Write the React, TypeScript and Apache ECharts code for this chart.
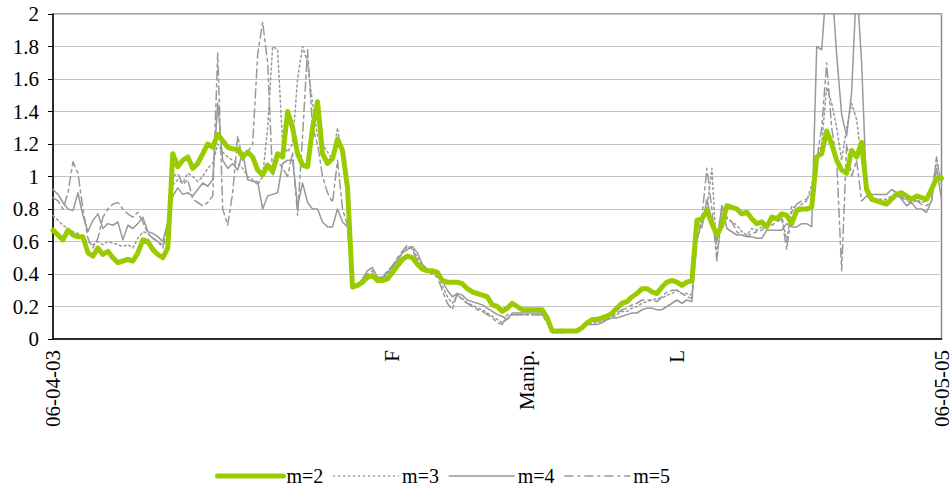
import React, { useEffect, useRef } from "react";
import * as echarts from "echarts";

// 179 samples from 06-04-03 to 06-05-05
const m2: number[] = [
  0.67,0.64,0.61,0.67,0.64,0.63,0.63,0.53,0.51,0.56,
  0.52,0.54,0.50,0.47,0.48,0.49,0.48,0.53,0.61,0.60,
  0.55,0.52,0.50,0.56,1.14,1.06,1.10,1.12,1.05,1.08,
  1.14,1.20,1.18,1.26,1.22,1.18,1.17,1.17,1.12,1.15,
  1.12,1.04,1.01,1.07,1.03,1.14,1.12,1.40,1.30,1.14,
  1.07,1.06,1.30,1.46,1.14,1.08,1.11,1.23,1.16,0.93,
  0.32,0.33,0.35,0.38,0.39,0.36,0.36,0.37,0.41,0.45,
  0.49,0.51,0.50,0.46,0.43,0.42,0.42,0.41,0.36,0.35,
  0.35,0.35,0.34,0.31,0.29,0.28,0.27,0.26,0.21,0.20,
  0.17,0.19,0.22,0.20,0.18,0.18,0.18,0.18,0.18,0.13,
  0.05,0.05,0.05,0.05,0.05,0.05,0.07,0.10,0.12,0.12,
  0.13,0.14,0.16,0.19,0.22,0.23,0.26,0.28,0.31,0.31,
  0.29,0.28,0.32,0.35,0.36,0.35,0.33,0.35,0.36,0.73,
  0.74,0.79,0.71,0.64,0.70,0.82,0.81,0.80,0.77,0.78,
  0.74,0.71,0.72,0.69,0.75,0.74,0.77,0.76,0.71,0.79,
  0.80,0.80,0.81,1.12,1.14,1.28,1.20,1.10,1.04,1.02,
  1.16,1.12,1.21,0.92,0.86,0.85,0.84,0.83,0.86,0.89,
  0.90,0.88,0.86,0.88,0.87,0.86,0.92,0.99,0.99,
];

const m3: number[] = [
  0.76,0.73,0.70,0.68,0.66,0.65,0.62,0.60,0.58,0.60,
  0.58,0.60,0.59,0.58,0.57,0.58,0.56,0.62,0.66,0.65,
  0.62,0.60,0.58,0.62,0.95,0.98,0.96,1.02,1.00,0.97,
  1.00,1.05,1.08,1.20,1.15,1.12,1.10,1.08,1.05,1.00,
  0.98,0.95,1.00,1.30,1.80,1.78,1.20,1.15,1.20,1.60,
  1.80,1.70,1.45,1.25,1.20,1.15,1.10,1.30,1.10,0.90,
  0.33,0.34,0.36,0.39,0.40,0.37,0.37,0.40,0.45,0.49,
  0.53,0.57,0.56,0.50,0.45,0.42,0.40,0.40,0.33,0.26,
  0.22,0.27,0.25,0.22,0.21,0.19,0.18,0.16,0.14,0.12,
  0.10,0.12,0.15,0.15,0.15,0.15,0.15,0.15,0.15,0.10,
  0.04,0.04,0.04,0.05,0.05,0.06,0.07,0.09,0.10,0.10,
  0.11,0.12,0.13,0.15,0.17,0.17,0.19,0.20,0.22,0.23,
  0.24,0.25,0.25,0.27,0.28,0.30,0.28,0.28,0.27,0.62,
  0.70,0.80,1.05,0.50,0.75,0.74,0.72,0.70,0.66,0.64,
  0.68,0.67,0.69,0.72,0.73,0.74,0.76,0.60,0.82,0.80,
  0.83,0.85,0.95,1.10,1.20,1.55,1.45,1.30,1.10,1.30,
  1.45,1.35,1.10,0.92,0.88,0.86,0.86,0.86,0.88,0.90,
  0.88,0.86,0.84,0.86,0.84,0.85,0.90,1.10,0.95,
];

const m4: number[] = [
  0.92,0.89,0.84,0.80,0.79,0.90,0.76,0.66,0.73,0.77,
  0.68,0.71,0.70,0.72,0.61,0.70,0.68,0.71,0.75,0.66,
  0.65,0.63,0.60,0.72,0.88,0.93,0.89,0.90,0.88,0.92,
  0.96,0.94,0.98,1.45,1.10,1.05,1.08,1.04,1.15,0.98,
  0.97,0.97,0.80,0.88,0.89,0.90,1.08,1.10,1.10,0.82,
  0.96,0.84,0.80,0.80,0.72,0.69,0.69,0.80,0.72,0.69,
  0.31,0.33,0.37,0.42,0.44,0.38,0.38,0.41,0.44,0.48,
  0.53,0.55,0.57,0.53,0.46,0.43,0.42,0.41,0.36,0.30,
  0.26,0.28,0.27,0.24,0.23,0.22,0.21,0.19,0.17,0.15,
  0.14,0.12,0.16,0.16,0.16,0.16,0.16,0.16,0.16,0.12,
  0.04,0.04,0.04,0.05,0.05,0.06,0.07,0.09,0.09,0.09,
  0.10,0.12,0.13,0.13,0.14,0.15,0.16,0.16,0.18,0.19,
  0.19,0.18,0.18,0.20,0.22,0.24,0.22,0.24,0.23,0.72,
  0.69,0.86,0.72,0.60,0.82,0.68,0.66,0.64,0.64,0.63,
  0.63,0.62,0.62,0.67,0.67,0.67,0.67,0.71,0.69,0.69,
  0.71,0.71,0.69,1.80,1.78,2.20,2.20,1.75,1.38,1.25,
  1.52,2.20,1.70,0.90,0.89,0.89,0.89,0.89,0.92,0.90,
  0.86,0.82,0.84,0.80,0.80,0.78,0.85,1.05,0.86,
];

const m5: number[] = [
  0.87,0.85,0.80,0.90,1.09,1.02,0.80,0.62,0.56,0.62,
  0.75,0.80,0.83,0.84,0.80,0.77,0.75,0.78,0.72,0.65,
  0.62,0.60,0.56,0.70,1.00,1.02,0.95,0.98,0.86,0.84,
  0.82,0.84,0.88,1.76,0.80,0.70,0.90,1.25,1.10,1.15,
  1.20,1.75,1.95,1.70,1.00,1.10,1.05,1.00,1.15,0.76,
  1.25,1.78,1.30,1.20,1.00,0.90,0.84,1.10,0.80,0.70,
  0.32,0.34,0.36,0.40,0.42,0.37,0.38,0.42,0.45,0.50,
  0.54,0.58,0.55,0.48,0.44,0.42,0.40,0.38,0.30,0.22,
  0.18,0.28,0.24,0.22,0.20,0.18,0.17,0.15,0.13,0.10,
  0.09,0.15,0.15,0.15,0.15,0.15,0.15,0.15,0.15,0.10,
  0.05,0.04,0.04,0.05,0.05,0.06,0.07,0.09,0.11,0.11,
  0.12,0.13,0.14,0.16,0.18,0.19,0.21,0.22,0.24,0.24,
  0.24,0.23,0.26,0.29,0.30,0.30,0.28,0.26,0.25,0.60,
  0.75,1.05,0.80,0.48,0.82,0.75,0.72,0.66,0.64,0.63,
  0.65,0.66,0.67,0.70,0.70,0.72,0.74,0.55,0.78,0.83,
  0.85,0.86,0.90,1.10,1.30,1.70,1.30,1.10,0.42,1.20,
  1.00,1.10,0.85,0.88,0.86,0.84,0.84,0.85,0.87,0.88,
  0.87,0.85,0.84,0.85,0.83,0.82,0.85,1.12,0.95,
];

const seriesNames = ["m=2", "m=3", "m=4", "m=5"];
const xTickLabels = ["06-04-03", "F", "Manip.", "L", "06-05-05"];
const xTickIndex = [0, 68, 95, 125, 178];
const categories: string[] = m2.map((_, i) => String(i));

const FONT = "Liberation Serif";
const GREEN = "#99cc00";
const GRAY = "#999999";

export default function App() {
  const ref = useRef<HTMLDivElement>(null);
  useEffect(() => {
    if (!ref.current) return;
    const chart = echarts.init(ref.current, undefined, { renderer: "svg" });
    const styles = [
      { color: GREEN, width: 5, type: "solid" as any, z: 5 },
      { color: GRAY, width: 1.5, type: [2, 3] as any, z: 3 },
      { color: GRAY, width: 1.5, type: "solid" as any, z: 3 },
      { color: GRAY, width: 1.5, type: [9, 4, 3, 4] as any, z: 3 },
    ];
    const dataSets = [m2, m3, m4, m5];
    chart.setOption({
      animation: false,
      textStyle: { fontFamily: FONT },
      grid: {
        left: 53, right: 8, top: 14, bottom: 149,
        show: true, borderColor: "#8a8a8a", borderWidth: 1.5,
        containLabel: false,
      },
      legend: {
        left: 210, top: 461,
        itemWidth: 66, itemHeight: 10, itemGap: 9,
        itemStyle: { opacity: 0 },
        textStyle: { fontFamily: FONT, fontSize: 20, color: "#000", padding: [0, 0, 0, -2] },
        data: seriesNames.map((n, k) => ({
          name: n,
          lineStyle: { color: styles[k].color, width: styles[k].width, type: styles[k].type, cap: k === 0 ? "round" : "butt" },
          itemStyle: { opacity: 0 },
        })),
      },
      xAxis: {
        type: "category",
        data: categories,
        boundaryGap: false,
        axisLine: { show: true, lineStyle: { color: "#000", width: 1.5 } },
        axisTick: { show: false },
        splitLine: { show: false },
        axisLabel: {
          rotate: 90,
          margin: 11,
          interval: (idx: number) => xTickIndex.indexOf(idx) >= 0,
          formatter: (_v: string, idx: number) => {
            const k = xTickIndex.indexOf(idx);
            return k >= 0 ? xTickLabels[k] : "";
          },
          fontFamily: FONT,
          fontSize: 21,
          color: "#000",
        },
      },
      yAxis: {
        type: "value",
        min: 0, max: 2, interval: 0.2,
        axisLine: { show: true, lineStyle: { color: "#000", width: 1.5 } },
        axisTick: { show: true, inside: false, length: 5, lineStyle: { color: "#000" } },
        splitLine: { show: true, lineStyle: { color: "#c4c4c4", width: 1 } },
        axisLabel: { margin: 14, fontFamily: FONT, fontSize: 21, color: "#000" },
      },
      series: dataSets.map((d, k) => ({
        name: seriesNames[k],
        type: "line",
        data: d,
        symbol: "none",
        showSymbol: false,
        clip: true,
        z: styles[k].z,
        lineStyle: { color: styles[k].color, width: styles[k].width, type: styles[k].type, join: "round", cap: "round" },
        itemStyle: { color: styles[k].color },
      })),
    });
    return () => chart.dispose();
  }, []);
  return (
    <div
      ref={ref}
      style={{ position: "fixed", left: 0, top: 0, width: 952, height: 488, background: "#fff" }}
    />
  );
}
